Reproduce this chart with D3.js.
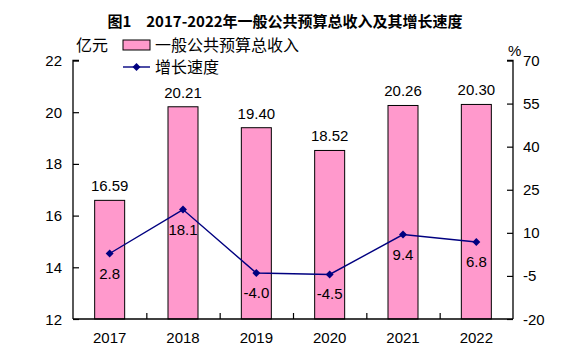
<!DOCTYPE html>
<html><head><meta charset="utf-8">
<script src="https://cdn.jsdelivr.net/npm/d3@7"></script>
<style>body{margin:0;background:#fff}svg{display:block}</style>
</head><body>
<script>
const years = ["2017","2018","2019","2020","2021","2022"];
const revenue = [16.59, 20.21, 19.40, 18.52, 20.26, 20.30];
const growth = [2.8, 18.1, -4.0, -4.5, 9.4, 6.8];
const leftTicks = [12,14,16,18,20,22];
const rightTicks = [-20,-5,10,25,40,55,70];
const title = "图1\u30002017-2022年一般公共预算总收入及其增长速度";
const barName = "一般公共预算总收入";
const lineName = "增长速度";

const W=582,H=356;
const L=73,R=513,T=60.5,B=319;
const num = "Arial, 'Liberation Sans', sans-serif";
const cjk = "'Noto Sans CJK SC', 'Noto Sans', sans-serif";
const svg = d3.select("body").append("svg").attr("width",W).attr("height",H);

const x = d3.scaleBand().domain(years).range([L,R]);
const yL = d3.scaleLinear().domain([12,22]).range([B,T]);
const yR = d3.scaleLinear().domain([-20,70]).range([B,T]);

// title
svg.append("text").attr("x",285).attr("y",27).attr("text-anchor","middle")
  .attr("font-family",cjk).attr("font-weight","bold").attr("font-size",15).text(title);

// bars
const bw = 30;
svg.selectAll("rect.bar").data(years).enter().append("rect")
  .attr("x",d=>x(d)+x.bandwidth()/2-bw/2).attr("width",bw)
  .attr("y",(d,i)=>yL(revenue[i])).attr("height",(d,i)=>B-yL(revenue[i]))
  .attr("fill","#ff99cc").attr("stroke","#000").attr("stroke-width",1);
svg.selectAll("text.bv").data(years).enter().append("text")
  .attr("x",d=>x(d)+x.bandwidth()/2).attr("y",(d,i)=>yL(revenue[i])-9)
  .attr("text-anchor","middle").attr("font-family",num).attr("font-size",15)
  .text((d,i)=>revenue[i].toFixed(2));

// axes
const axL = svg.append("g").attr("transform",`translate(${L},0)`)
  .call(d3.axisRight(yL).tickValues(leftTicks).tickSize(6).tickFormat(""));
const axR = svg.append("g").attr("transform",`translate(${R},0)`)
  .call(d3.axisLeft(yR).tickValues(rightTicks).tickSize(6).tickFormat(""));
const xb = d3.scaleLinear().domain([0,6]).range([L,R]);
const axB = svg.append("g").attr("transform",`translate(0,${B})`)
  .call(d3.axisTop(xb).tickValues([1,2,3,4,5]).tickSize(6).tickFormat(""));
[axL,axR,axB].forEach(a=>{a.select(".domain").attr("stroke","#000").attr("stroke-width",1.3);a.selectAll("line").attr("stroke","#000").attr("stroke-width",1.2);});
axL.select(".domain").attr("d",`M6,${T}H0V${B}`);
axR.select(".domain").attr("d",`M-6,${T}H0V${B}`);
axB.select(".domain").attr("d",`M${L},0H${R}`);

svg.selectAll("text.lt").data(leftTicks).enter().append("text")
  .attr("x",62).attr("y",d=>yL(d)+5.5).attr("text-anchor","end")
  .attr("font-family",num).attr("font-size",15).text(d=>d);
svg.selectAll("text.rt").data(rightTicks).enter().append("text")
  .attr("x",523).attr("y",d=>yR(d)+5.5).attr("text-anchor","start")
  .attr("font-family",num).attr("font-size",15).text(d=>d);
svg.selectAll("text.xt").data(years).enter().append("text")
  .attr("x",d=>x(d)+x.bandwidth()/2).attr("y",343).attr("text-anchor","middle")
  .attr("font-family",num).attr("font-size",15).text(d=>d);

// line
const line = d3.line().x((d,i)=>x(years[i])+x.bandwidth()/2).y(d=>yR(d));
svg.append("path").attr("d",line(growth)).attr("fill","none").attr("stroke","#000080").attr("stroke-width",1.4);
const sym = d3.symbol().type(d3.symbolDiamond2).size(40);
svg.selectAll("path.pt").data(growth).enter().append("path")
  .attr("transform",(d,i)=>`translate(${x(years[i])+x.bandwidth()/2},${yR(d)})`)
  .attr("d",sym).attr("fill","#000080");
svg.selectAll("text.gv").data(growth).enter().append("text")
  .attr("x",(d,i)=>x(years[i])+x.bandwidth()/2).attr("y",d=>yR(d)+25)
  .attr("text-anchor","middle").attr("font-family",num).attr("font-size",15)
  .text(d=>d.toFixed(1));

// axis units
svg.append("text").attr("x",76).attr("y",51).attr("font-family",cjk).attr("font-size",16).text("亿元");
svg.append("text").attr("x",508).attr("y",56).attr("font-family",num).attr("font-size",15).text("%");

// legend
svg.append("rect").attr("x",123).attr("y",40).attr("width",27).attr("height",10)
  .attr("fill","#ff99cc").attr("stroke","#000").attr("stroke-width",1);
svg.append("text").attr("x",155).attr("y",51).attr("font-family",cjk).attr("font-size",16).text(barName);
svg.append("line").attr("x1",123).attr("x2",150).attr("y1",67).attr("y2",67).attr("stroke","#000080").attr("stroke-width",1.4);
svg.append("path").attr("transform","translate(136.5,67)").attr("d",sym).attr("fill","#000080");
svg.append("text").attr("x",155).attr("y",73).attr("font-family",cjk).attr("font-size",16).text(lineName);
</script>
</body></html>
